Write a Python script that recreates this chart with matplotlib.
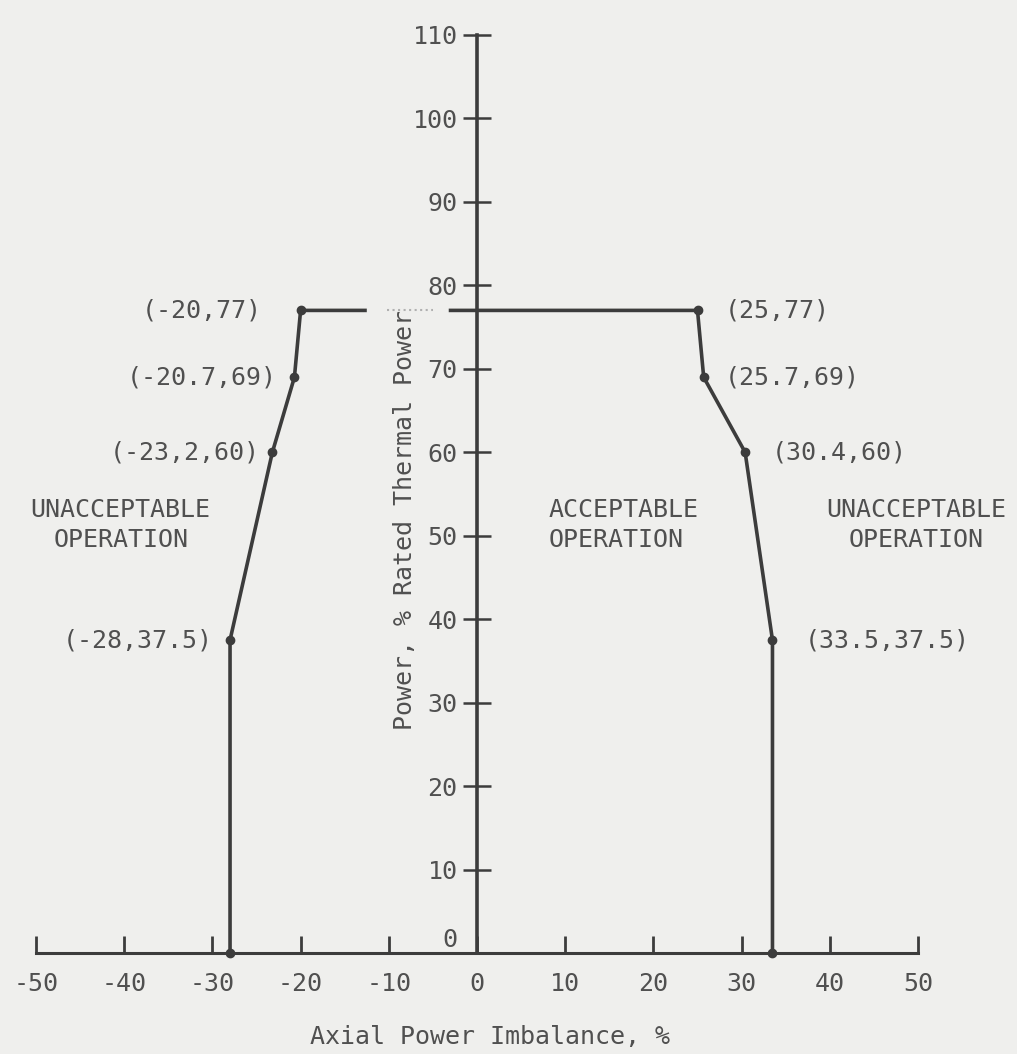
import numpy as np
import matplotlib
matplotlib.use('Agg')
import matplotlib.pyplot as plt

## Limit curve points (axial imbalance %, power %)
left_x = [-28, -28, -23.2, -20.7, -20, -12.7]
left_y = [0, 37.5, 60, 69, 77, 77]
faint_x = [-10.2, -5]
faint_y = [77, 77]
right_x = [-3, 25, 25.7, 30.4, 33.5, 33.5]
right_y = [77, 77, 69, 60, 37.5, 0]
pt_x = [-28, -28, -23.2, -20.7, -20, 25, 25.7, 30.4, 33.5, 33.5]
pt_y = [0, 37.5, 60, 69, 77, 77, 69, 60, 37.5, 0]

## Labels for the breakpoints
left_labels = ['(-20,77)', '(-20.7,69)', '(-23,2,60)', '(-28,37.5)']
left_lab_x = [-24.4, -22.7, -24.6, -30.0]
left_lab_y = [77, 69, 60, 37.5]
right_labels = ['(25,77)', '(25.7,69)', '(30.4,60)', '(33.5,37.5)']
right_lab_x = [28.1, 28.1, 33.4, 37.2]
right_lab_y = [77, 69, 60, 37.5]

xticks = [-50, -40, -30, -20, -10, 0, 10, 20, 30, 40, 50]
xticklabels = ['-50', '-40', '-30', '-20', '-10', '0', '10', '20', '30', '40', '50']
yticks = [10, 20, 30, 40, 50, 60, 70, 80, 90, 100, 110]

bg = '#efefed'
ink = '#3c3c3c'
txt = '#505050'
fnt = 'DejaVu Sans Mono'
fs = 18

fig = plt.figure(figsize=(10.17, 10.54), dpi=100)
fig.patch.set_facecolor(bg)
ax = fig.add_axes([36/1017, (1054-953)/1054, 882/1017, 918/1054])
ax.set_facecolor(bg)
ax.set_xlim(-50, 50)
ax.set_ylim(0, 110)

for s in ['top', 'right']:
    ax.spines[s].set_visible(False)
ax.spines['left'].set_position(('data', 0))
ax.spines['left'].set_linewidth(2.6)
ax.spines['left'].set_color(ink)
ax.spines['bottom'].set_linewidth(2.2)
ax.spines['bottom'].set_color(ink)

ax.set_xticks(xticks)
ax.set_xticklabels(xticklabels, family=fnt, fontsize=fs, color=txt)
ax.tick_params(axis='x', direction='in', length=12, width=2, color=ink, pad=14)
ax.set_yticks(yticks)
ax.set_yticklabels([str(v) for v in yticks], family=fnt, fontsize=fs, color=txt)
ax.tick_params(axis='y', direction='inout', length=20, width=1.8, color=ink, pad=4)
ax.text(-3.1, 1.6, '0', family=fnt, fontsize=fs, color=txt, ha='center', va='center')

## limit curve
ax.plot(left_x, left_y, color=ink, lw=2.6, solid_joinstyle='round')
ax.plot(faint_x, faint_y, color='#b0b0b0', lw=1.5, ls=':')
ax.plot(right_x, right_y, color=ink, lw=2.6, solid_joinstyle='round')
ax.plot(pt_x, pt_y, 'o', color=ink, ms=6, clip_on=False)

for lab, x, y in zip(left_labels, left_lab_x, left_lab_y):
    ax.text(x, y, lab, family=fnt, fontsize=fs, color=txt, ha='right', va='center')
for lab, x, y in zip(right_labels, right_lab_x, right_lab_y):
    ax.text(x, y, lab, family=fnt, fontsize=fs, color=txt, ha='left', va='center')

ax.text(-40.4, 51.3, 'UNACCEPTABLE\nOPERATION', family=fnt, fontsize=fs, color=txt,
        ha='center', va='center', multialignment='center', linespacing=1.35)
ax.text(16.6, 51.3, 'ACCEPTABLE\nOPERATION', family=fnt, fontsize=fs, color=txt,
        ha='center', va='center', multialignment='left', linespacing=1.35)
ax.text(49.8, 51.3, 'UNACCEPTABLE\nOPERATION', family=fnt, fontsize=fs, color=txt,
        ha='center', va='center', multialignment='center', linespacing=1.35, clip_on=False)

ax.text(-8.2, 51.9, 'Power, % Rated Thermal Power', family=fnt, fontsize=fs, color=txt,
        ha='center', va='center', rotation=90)
fig.text(490/1017, 1-1037/1054, 'Axial Power Imbalance, %', family=fnt, fontsize=fs,
         color=txt, ha='center', va='center')

fig.savefig('out.png', dpi=100, facecolor=bg)
